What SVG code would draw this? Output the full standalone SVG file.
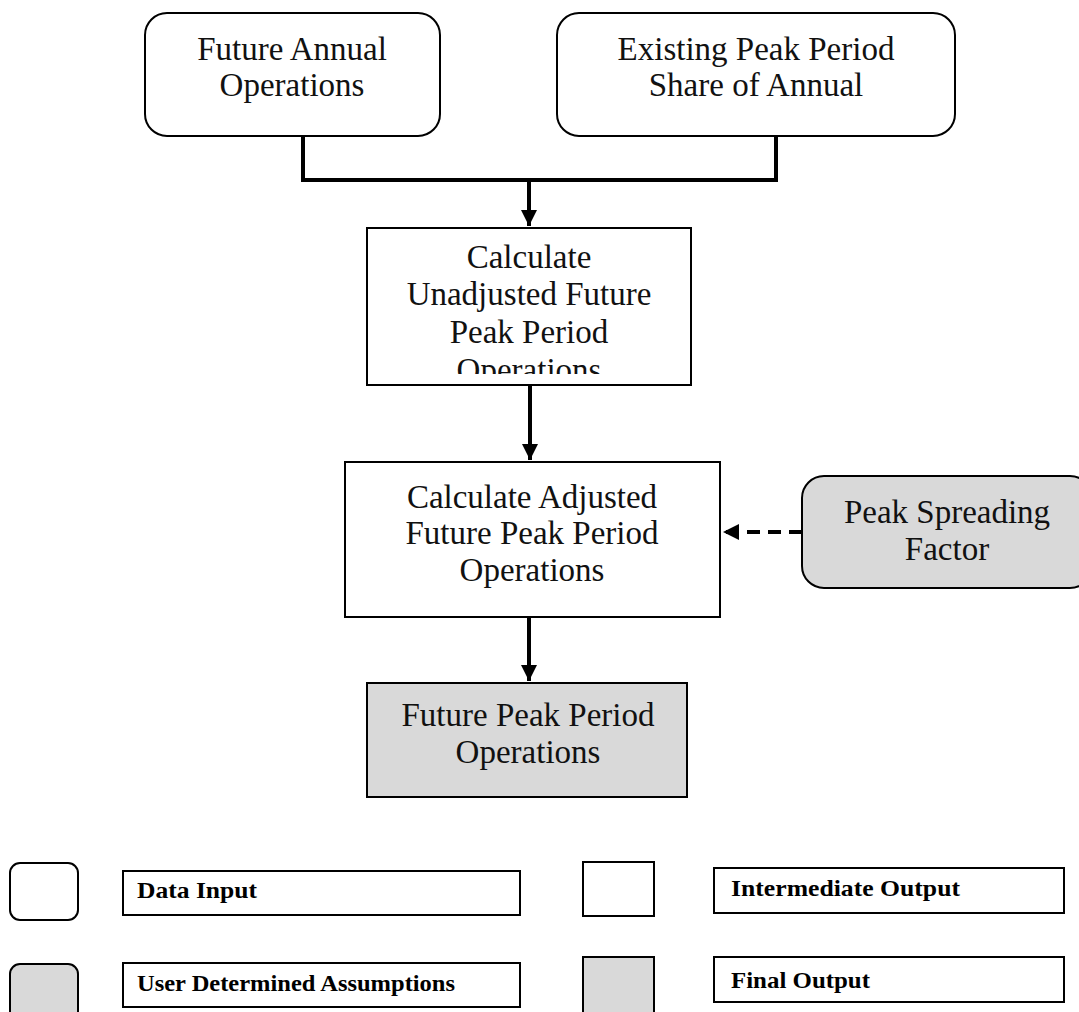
<svg xmlns="http://www.w3.org/2000/svg" width="1079" height="1012" viewBox="0 0 1079 1012">
  <style>
    .box { stroke: #000; stroke-width: 2; }
    .white { fill: #fff; }
    .grey { fill: #d9d9d9; }
    .lbl { font-family: "Liberation Serif", "Times New Roman", serif; font-size: 33px; fill: #111; text-anchor: middle; }
    .key { font-family: "Liberation Serif", "Times New Roman", serif; font-size: 23px; font-weight: bold; fill: #000; }
    .wire { fill: none; stroke: #000; stroke-width: 4; }
  </style>
  <defs>
    <marker id="head" viewBox="0 0 10 10" refX="10" refY="5" markerWidth="4" markerHeight="4" markerUnits="strokeWidth" orient="auto">
      <path d="M0,0 L10,5 L0,10 Z" fill="#000"/>
    </marker>
    <clipPath id="clipUnadj">
      <rect x="367" y="228" width="324" height="146"/>
    </clipPath>
  </defs>

  <rect width="1079" height="1012" fill="#fff"/>

  <!-- connectors -->
  <g id="connectors">
    <path class="wire" d="M303,136 V180 H776 V136"/>
    <line class="wire" x1="529" y1="180" x2="529" y2="226" marker-end="url(#head)"/>
    <line class="wire" x1="530" y1="385" x2="530" y2="460" marker-end="url(#head)"/>
    <line class="wire" x1="802" y1="532" x2="723" y2="532" stroke-dasharray="13,8" marker-end="url(#head)"/>
    <line class="wire" x1="529" y1="617" x2="529" y2="681" marker-end="url(#head)"/>
  </g>

  <!-- inputs -->
  <g id="future-annual">
    <rect class="box white" x="145" y="13" width="295" height="123" rx="22"/>
    <text class="lbl" x="292" y="60">Future Annual</text>
    <text class="lbl" x="292" y="96">Operations</text>
  </g>
  <g id="peak-share">
    <rect class="box white" x="557" y="13" width="398" height="123" rx="22"/>
    <text class="lbl" x="756" y="60">Existing Peak Period</text>
    <text class="lbl" x="756" y="96">Share of Annual</text>
  </g>

  <!-- intermediate steps -->
  <g id="unadjusted">
    <rect class="box white" x="367" y="228" width="324" height="157"/>
    <g clip-path="url(#clipUnadj)">
      <text class="lbl" x="529" y="268">Calculate</text>
      <text class="lbl" x="529" y="305">Unadjusted Future</text>
      <text class="lbl" x="529" y="343">Peak Period</text>
      <text class="lbl" x="529" y="381">Operations</text>
    </g>
  </g>
  <g id="adjusted">
    <rect class="box white" x="345" y="462" width="375" height="155"/>
    <text class="lbl" x="532" y="508">Calculate Adjusted</text>
    <text class="lbl" x="532" y="544">Future Peak Period</text>
    <text class="lbl" x="532" y="581">Operations</text>
  </g>
  <g id="peak-spreading">
    <rect class="box grey" x="802" y="476" width="290" height="112" rx="22"/>
    <text class="lbl" x="947" y="523">Peak Spreading</text>
    <text class="lbl" x="947" y="560">Factor</text>
  </g>

  <!-- result -->
  <g id="future-peak">
    <rect class="box grey" x="367" y="683" width="320" height="114"/>
    <text class="lbl" x="528" y="726">Future Peak Period</text>
    <text class="lbl" x="528" y="763">Operations</text>
  </g>

  <!-- legend -->
  <g id="legend-data-input">
    <rect class="box white" x="10" y="863" width="68" height="57" rx="10"/>
    <rect class="box white" x="123" y="871" width="397" height="44"/>
    <text class="key" x="137" y="898" textLength="120" lengthAdjust="spacingAndGlyphs">Data Input</text>
  </g>
  <g id="legend-assumptions">
    <rect class="box grey" x="10" y="964" width="68" height="60" rx="10"/>
    <rect class="box white" x="123" y="963" width="397" height="44"/>
    <text class="key" x="137" y="991" textLength="318" lengthAdjust="spacingAndGlyphs">User Determined Assumptions</text>
  </g>
  <g id="legend-intermediate">
    <rect class="box white" x="583" y="862" width="71" height="54"/>
    <rect class="box white" x="714" y="868" width="350" height="45"/>
    <text class="key" x="731" y="896" textLength="229" lengthAdjust="spacingAndGlyphs">Intermediate Output</text>
  </g>
  <g id="legend-final">
    <rect class="box grey" x="583" y="957" width="71" height="60"/>
    <rect class="box white" x="714" y="957" width="350" height="45"/>
    <text class="key" x="731" y="988" textLength="139" lengthAdjust="spacingAndGlyphs">Final Output</text>
  </g>
</svg>
